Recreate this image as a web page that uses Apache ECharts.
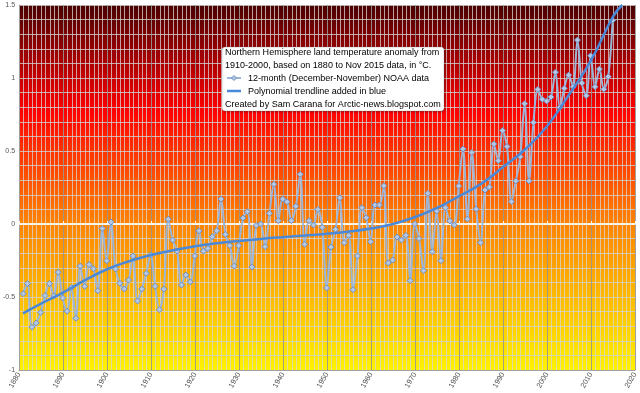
<!DOCTYPE html>
<html>
<head>
<meta charset="utf-8">
<script src="https://cdn.jsdelivr.net/npm/echarts@6/dist/echarts.min.js"></script>
<style>
html,body{margin:0;padding:0;background:#fff;}
#chart{width:640px;height:393px;}
</style>
</head>
<body>
<div id="chart"></div>
<script>
// 12-month (December-November) periods, labelled by the year in which they end
const years = [];
for (let y = 1881; y <= 2015; y++) years.push(y);

const anomaly = [
  -0.477,-0.408,-0.706,-0.678,-0.606,-0.490,-0.408,-0.492,-0.330,-0.507,
  -0.597,-0.435,-0.646,-0.288,-0.427,-0.278,-0.307,-0.457,-0.031,-0.252,
   0.013,-0.308,-0.406,-0.445,-0.384,-0.219,-0.527,-0.445,-0.338,-0.212,
  -0.427,-0.587,-0.446, 0.033,-0.110,-0.185,-0.418,-0.349,-0.397,-0.219,
  -0.047,-0.186,-0.168,-0.087,-0.046, 0.171,-0.071,-0.148,-0.288,-0.148,
   0.041, 0.084,-0.295,-0.009, 0.000,-0.155, 0.073, 0.272, 0.023, 0.171,
   0.152, 0.023, 0.121, 0.340,-0.139, 0.023,-0.007, 0.100,-0.023,-0.438,
  -0.158,-0.037, 0.180,-0.128,-0.078,-0.450,-0.219, 0.112, 0.043,-0.121,
   0.130, 0.130, 0.262,-0.267,-0.247,-0.089,-0.110,-0.078,-0.388, 0.000,
  -0.100,-0.320, 0.210,-0.190, 0.089,-0.251, 0.112, 0.021,-0.007, 0.260,
   0.514, 0.034, 0.490, 0.102,-0.128, 0.233, 0.253, 0.548, 0.434, 0.640,
   0.530, 0.153, 0.295, 0.461, 0.824, 0.295, 0.695, 0.922, 0.854, 0.842,
   0.870, 1.040, 0.798, 0.929, 1.020, 0.940, 1.260, 0.965, 0.879, 1.152,
   0.940, 1.061, 0.923, 1.009, 1.395
];

// polynomial trendline
const trendYears  = [1880.9,1885,1890,1895,1900,1905,1910,1915,1920,1925,1930,1935,1940,1945,1950,1955,1960,1965,1970,1975,1980,1985,1990,1995,2000,2005,2010,2015,2017.1];
const trendValues = [-0.612,-0.545,-0.47,-0.385,-0.31,-0.255,-0.212,-0.18,-0.152,-0.132,-0.116,-0.102,-0.09,-0.079,-0.067,-0.052,-0.031,0.0,0.047,0.11,0.19,0.275,0.39,0.51,0.67,0.885,1.12,1.42,1.5];

const yTicks = [-1, -0.5, 0, 0.5, 1, 1.5];
const xTickStart = 1880, xTickEnd = 2020;

const titleLines = [
  'Northern Hemisphere land temperature anomaly from',
  '1910-2000, based on 1880 to Nov 2015 data, in \u00B0C.'
];
const legendNames = ['12-month (December-November) NOAA data', 'Polynomial trendline added in blue'];
const creditLine = 'Created by Sam Carana for Arctic-news.blogspot.com';

// each 12-month period starts in December of the previous year
const dataPoints = years.map((y, i) => [y - 1 + 11 / 12, anomaly[i]]);
const trendPoints = trendYears.map((y, i) => [y, trendValues[i]]);

const FONT = '"Liberation Sans", Arial, sans-serif';
const dataColor = '#9cb6da';
const trendColor = '#4a88d8';

const chart = echarts.init(document.getElementById('chart'), null, {renderer: 'canvas'});

const bx = 222, by = 47, bw = 222, bh = 64;
const lineY = [52, 65, 78, 91, 104];
const TXT = {font: '9.5px ' + FONT, fill: '#000', verticalAlign: 'middle'};
const SX = 0.95;

const option = {
  animation: false,
  backgroundColor: '#ffffff',
  grid: {
    left: 19, right: 5, top: 5, bottom: 23,
    show: true,
    borderWidth: 0,
    backgroundColor: {
      type: 'linear', x: 0, y: 0, x2: 0, y2: 1,
      colorStops: [
        {offset: 0.00, color: '#4a0000'},
        {offset: 0.10, color: '#880000'},
        {offset: 0.20, color: '#c80000'},
        {offset: 0.29, color: '#ff0000'},
        {offset: 0.40, color: '#ff3300'},
        {offset: 0.50, color: '#ff5c00'},
        {offset: 0.60, color: '#ff8400'},
        {offset: 0.75, color: '#ffac00'},
        {offset: 0.88, color: '#ffd000'},
        {offset: 1.00, color: '#fff200'}
      ]
    }
  },
  xAxis: [
    {
      type: 'value', min: xTickStart, max: xTickEnd, interval: 10,
      position: 'bottom',
      axisLine: {show: true, onZero: false, lineStyle: {color: '#a0a0a0', width: 1}},
      axisTick: {show: false},
      axisLabel: {
        rotate: 60, fontSize: 7.5, color: '#555', fontFamily: FONT, margin: 3,
        formatter: v => String(v)
      },
      splitLine: {show: true, lineStyle: {color: 'rgba(150,150,150,0.9)', width: 1}},
      minorTick: {show: false, splitNumber: 10},
      minorSplitLine: {show: true, lineStyle: {color: 'rgba(215,215,215,0.75)', width: 1}}
    },
    {
      type: 'value', min: xTickStart, max: xTickEnd, interval: 10,
      position: 'top',
      axisLine: {show: true, onZero: true, lineStyle: {color: 'rgba(255,255,255,0.9)', width: 2}},
      axisTick: {show: true, length: 3, lineStyle: {color: 'rgba(255,255,255,0.9)', width: 1}},
      axisLabel: {show: false},
      splitLine: {show: false}
    }
  ],
  yAxis: {
    type: 'value', min: yTicks[0], max: yTicks[yTicks.length - 1], interval: 0.5,
    axisLine: {show: true, lineStyle: {color: '#a0a0a0', width: 1}},
    axisTick: {show: false},
    axisLabel: {fontSize: 7, color: '#555', fontFamily: FONT, margin: 4},
    splitLine: {show: true, lineStyle: {color: 'rgba(210,210,210,0.8)', width: 1}},
    minorTick: {show: false, splitNumber: 5},
    minorSplitLine: {show: true, lineStyle: {color: 'rgba(210,210,210,0.8)', width: 1}}
  },
  series: [
    {
      name: legendNames[0],
      type: 'line',
      xAxisIndex: 0,
      data: dataPoints,
      smooth: 0.35,
      symbol: 'diamond',
      symbolSize: 6,
      showAllSymbol: true,
      lineStyle: {color: dataColor, width: 2},
      itemStyle: {color: '#b4c8e6', borderColor: '#6d8fc0', borderWidth: 1},
      z: 3
    },
    {
      name: legendNames[1],
      type: 'line',
      xAxisIndex: 0,
      data: trendPoints,
      smooth: 0.5,
      symbol: 'none',
      lineStyle: {color: trendColor, width: 2.5},
      z: 4
    }
  ],
  graphic: [
    {
      type: 'rect', z: 100,
      shape: {x: bx, y: by, width: bw, height: bh, r: 3},
      style: {fill: '#ffffff', stroke: 'rgba(120,120,120,0.5)', lineWidth: 0.5,
               shadowBlur: 2, shadowColor: 'rgba(0,0,0,0.3)', shadowOffsetX: 1, shadowOffsetY: 1}
    },
    {type: 'text', z: 101, x: 225, y: lineY[0], scaleX: SX,
     style: Object.assign({text: titleLines[0]}, TXT)},
    {type: 'text', z: 101, x: 225, y: lineY[1], scaleX: SX,
     style: Object.assign({text: titleLines[1]}, TXT)},
    {type: 'line', z: 101, shape: {x1: 227, y1: lineY[2], x2: 241, y2: lineY[2]},
     style: {stroke: dataColor, lineWidth: 2}},
    {type: 'polygon', z: 102, shape: {points: [[234, 75.5], [236.5, 78], [234, 80.5], [231.5, 78]]},
     style: {fill: '#b4c8e6', stroke: '#6d8fc0', lineWidth: 1}},
    {type: 'text', z: 101, x: 248, y: lineY[2], scaleX: SX,
     style: Object.assign({text: legendNames[0]}, TXT)},
    {type: 'line', z: 101, shape: {x1: 227, y1: lineY[3], x2: 241, y2: lineY[3]},
     style: {stroke: trendColor, lineWidth: 2.5}},
    {type: 'text', z: 101, x: 248, y: lineY[3], scaleX: SX,
     style: Object.assign({text: legendNames[1]}, TXT)},
    {type: 'text', z: 101, x: 225, y: lineY[4], scaleX: SX,
     style: Object.assign({text: creditLine}, TXT)}
  ]
};

chart.setOption(option);
</script>
</body>
</html>
